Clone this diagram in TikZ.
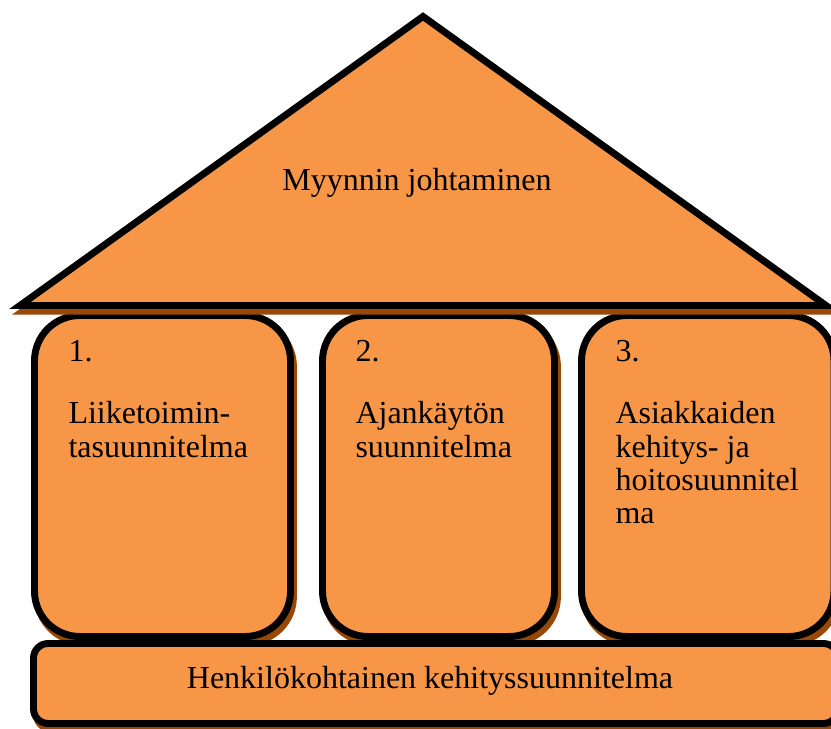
\documentclass[tikz,border=0pt]{standalone}
\usepackage{fontspec}
\setmainfont{Liberation Serif}
\usepackage{xcolor}
\usepackage{tikz}
\usetikzlibrary{positioning}
\usetikzlibrary{shadows}

\definecolor{houseorange}{HTML}{F79646}
\definecolor{housebrown}{HTML}{984807}

\begin{document}
\begin{tikzpicture}
                [x=0.375pt, y=-0.375pt,
                 part/.style = {fill=houseorange, draw=black, line width=2.6pt,
                   general shadow={shadow xshift=1.1pt, shadow yshift=-2.1pt, fill=housebrown, draw=housebrown, line width=2.6pt}},
                 pillar/.style = {part, rounded corners=17pt},
                 plinth/.style = {part, rounded corners=5.5pt},
                 roof/.style = {part, miter limit=20},
                 lbl/.style = {font=\fontsize{12}{12.5}\selectfont, inner sep=0pt, align=left}]
                \useasboundingbox (0,0) rectangle (831,729);
                \clip (0,0) rectangle (831,729);
                % Pillars
                \draw[pillar] (34.5,315.5) rectangle (290.5,636.5);
                \draw[pillar] (322.5,315.5) rectangle (554.5,636.5);
                \draw[pillar] (581.5,315.5) rectangle (834,636.5);
                % Foundation
                \draw[plinth] (33.5,643.5) rectangle (838,723.5);
                % Roof
                \draw[roof] (20,305.5) -- (423,16.5) -- (826,305.5) -- cycle;

                % Texts
                \node[lbl] (roofText) at (417,183) {Myynnin johtaminen};
                \node[lbl, anchor=base west] (num1) at (68,362) {1.};
                \node[lbl, anchor=base west] (num2) at (355,362) {2.};
                \node[lbl, anchor=base west] (num3) at (615,362) {3.};
                \node[lbl, anchor=north west] (plan1) at (68,401) {Liiketoimin-\\tasuunnitelma};
                \node[lbl, anchor=north west] (plan2) at (355,401) {Ajankäytön\\suunnitelma};
                \node[lbl, anchor=north west] (plan3) at (615,401) {Asiakkaiden\\kehitys- ja\\hoitosuunnitel\\ma};
                \node[lbl] (baseText) at (430,681) {Henkilökohtainen kehityssuunnitelma};
            \end{tikzpicture}
\end{document}
